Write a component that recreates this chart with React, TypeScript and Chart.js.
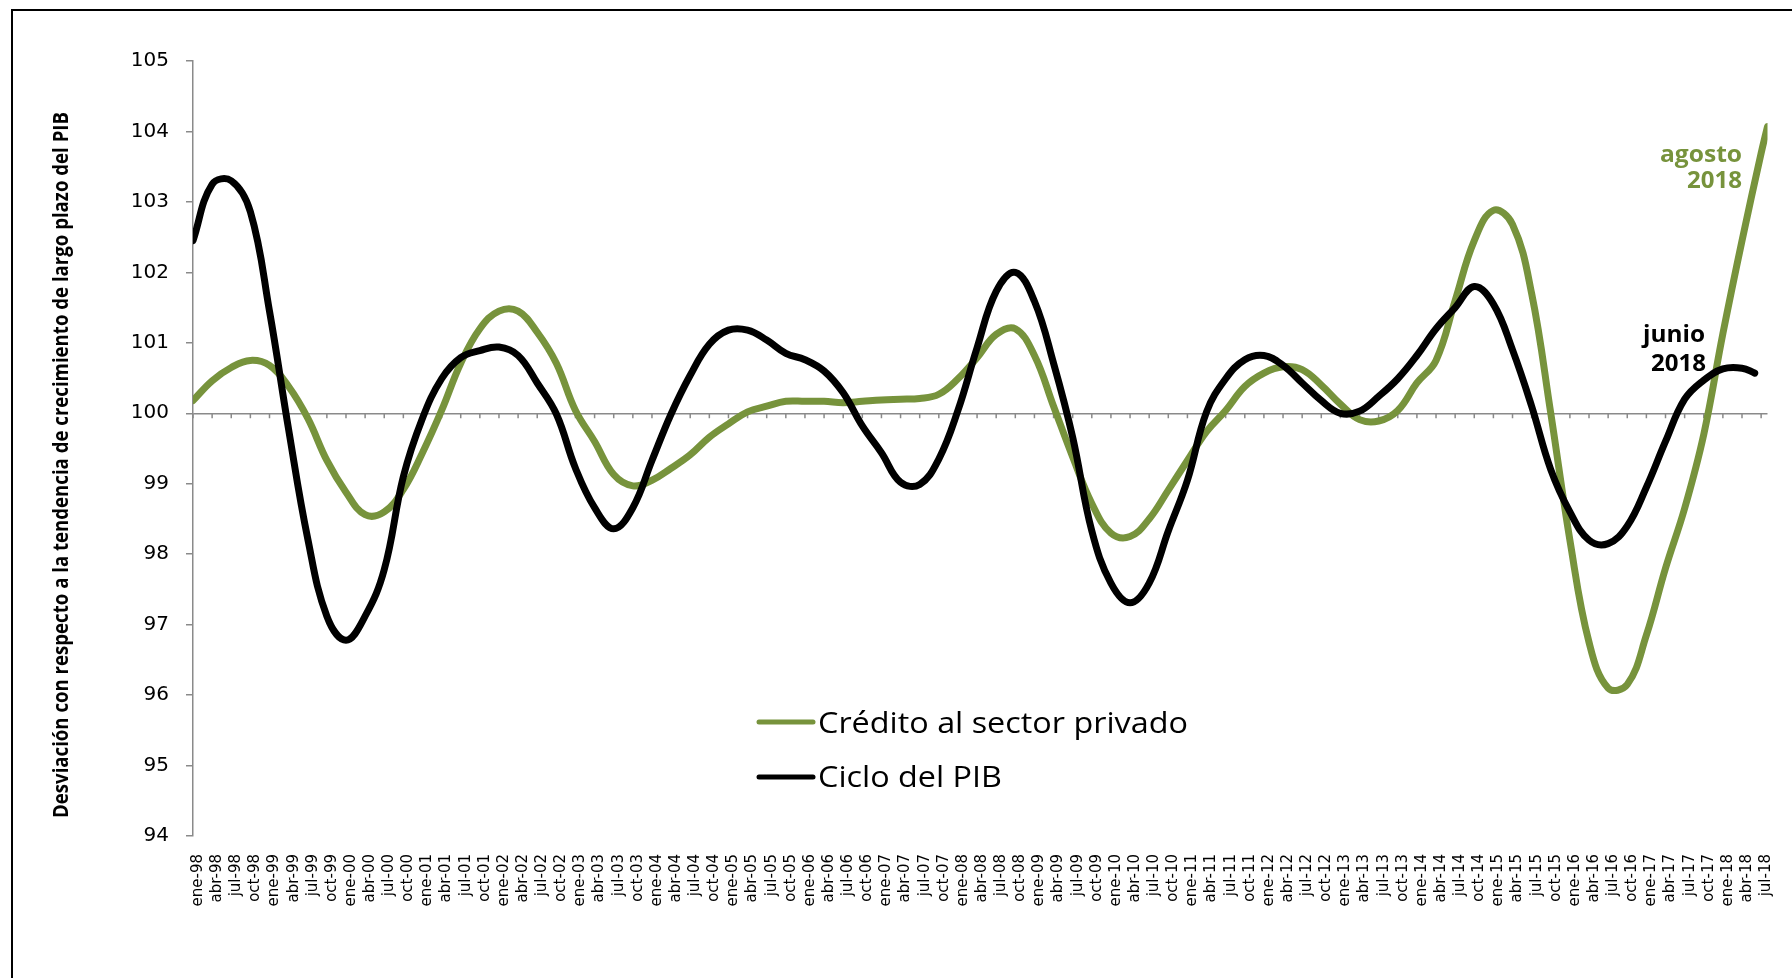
import { useEffect, useRef } from "react";
import { Chart, registerables } from "chart.js";

Chart.register(...registerables);

// Etiquetas trimestrales del eje X (ene-98 ... jul-18)
const quarterLabels = [
  "ene-98", "abr-98", "jul-98", "oct-98",
  "ene-99", "abr-99", "jul-99", "oct-99",
  "ene-00", "abr-00", "jul-00", "oct-00",
  "ene-01", "abr-01", "jul-01", "oct-01",
  "ene-02", "abr-02", "jul-02", "oct-02",
  "ene-03", "abr-03", "jul-03", "oct-03",
  "ene-04", "abr-04", "jul-04", "oct-04",
  "ene-05", "abr-05", "jul-05", "oct-05",
  "ene-06", "abr-06", "jul-06", "oct-06",
  "ene-07", "abr-07", "jul-07", "oct-07",
  "ene-08", "abr-08", "jul-08", "oct-08",
  "ene-09", "abr-09", "jul-09", "oct-09",
  "ene-10", "abr-10", "jul-10", "oct-10",
  "ene-11", "abr-11", "jul-11", "oct-11",
  "ene-12", "abr-12", "jul-12", "oct-12",
  "ene-13", "abr-13", "jul-13", "oct-13",
  "ene-14", "abr-14", "jul-14", "oct-14",
  "ene-15", "abr-15", "jul-15", "oct-15",
  "ene-16", "abr-16", "jul-16", "oct-16",
  "ene-17", "abr-17", "jul-17", "oct-17",
  "ene-18", "abr-18", "jul-18",
];

// Crédito al sector privado (valores trimestrales, ene-98 ... jul-18)
const creditoTrimestral = [
  100.18, 100.46, 100.65, 100.75,
  100.68, 100.38, 99.93, 99.33,
  98.88, 98.56, 98.6, 98.92,
  99.44, 100.04, 100.71, 101.2,
  101.45, 101.45, 101.15, 100.71,
  100.04, 99.6, 99.13, 98.97,
  99.05, 99.22, 99.41, 99.66,
  99.85, 100.02, 100.1, 100.17,
  100.17, 100.17, 100.15, 100.17,
  100.19, 100.2, 100.21, 100.27,
  100.49, 100.79, 101.12, 101.2,
  100.82, 100.1, 99.38, 98.72,
  98.3, 98.25, 98.5, 98.91,
  99.33, 99.74, 100.04, 100.38,
  100.57, 100.66, 100.62, 100.4,
  100.13, 99.91, 99.89, 100.04,
  100.43, 100.75, 101.6, 102.45,
  102.88, 102.68, 101.7, 100.0,
  98.2, 96.75, 96.1, 96.15,
  96.85, 97.8, 98.65, 99.7,
  101.13, 102.45, 103.69,
];
const creditoUltimoMes = "ago-18";
const creditoUltimoValor = 104.07;

// Ciclo del PIB (valores trimestrales, ene-98 ... abr-18)
const pibTrimestral = [
  102.45, 103.25, 103.3, 102.86,
  101.45, 99.77, 98.22, 97.12,
  96.78, 97.12, 97.78, 99.1,
  99.93, 100.49, 100.79, 100.89,
  100.94, 100.82, 100.43, 99.99,
  99.22, 98.66, 98.36, 98.66,
  99.33, 99.99, 100.54, 100.98,
  101.18, 101.18, 101.04, 100.85,
  100.76, 100.6, 100.29, 99.82,
  99.44, 99.02, 98.99, 99.35,
  100.04, 100.93, 101.73, 102.0,
  101.59, 100.71, 99.66, 98.33,
  97.59, 97.31, 97.59, 98.33,
  99.05, 100.02, 100.49, 100.76,
  100.82, 100.68, 100.43, 100.18,
  100.0, 100.03, 100.24, 100.49,
  100.82, 101.2, 101.5, 101.8,
  101.55, 100.9, 100.1, 99.2,
  98.6, 98.2, 98.15, 98.4,
  98.95, 99.6, 100.2, 100.47,
  100.63, 100.64,
];
const pibUltimoMes = "jun-18";
const pibUltimoValor = 100.57;

const yTicks = [94, 95, 96, 97, 98, 99, 100, 101, 102, 103, 104, 105];

const GREEN = "#77933C";
const AXIS_GRAY = "#8a8a8a";

const MONTHS = ["ene", "feb", "mar", "abr", "may", "jun", "jul", "ago", "sep", "oct", "nov", "dic"];
function monthIndex(label: string): number {
  const [m, yy] = label.split("-");
  const year = 1900 + Number(yy) + (Number(yy) < 50 ? 100 : 0);
  return (year - 1998) * 12 + MONTHS.indexOf(m);
}

const decorPlugin = {
  id: "decor",
  beforeDraw(chart: any) {
    const ctx = chart.ctx;
    ctx.save();
    ctx.strokeStyle = "#000";
    ctx.lineWidth = 2;
    ctx.beginPath();
    ctx.moveTo(12, chart.height);
    ctx.lineTo(12, 10);
    ctx.lineTo(chart.width, 10);
    ctx.stroke();
    ctx.restore();
  },
  beforeDatasetsDraw(chart: any) {
    const ctx = chart.ctx;
    const xs = chart.scales.x;
    const ys = chart.scales.y;
    const y0 = ys.getPixelForValue(100);
    ctx.save();
    ctx.strokeStyle = AXIS_GRAY;
    ctx.lineWidth = 1.5;
    ctx.beginPath();
    xs.ticks.forEach((t: any) => {
      const px = xs.getPixelForValue(t.value);
      ctx.moveTo(px, y0);
      ctx.lineTo(px, y0 + 5);
    });
    ctx.stroke();
    ctx.restore();
  },
  afterDraw(chart: any) {
    const ctx = chart.ctx;
    const fitText = (text: string, x: number, y: number, font: string, width: number, align: "left" | "right" | "center") => {
      ctx.font = font;
      const w = ctx.measureText(text).width;
      const s = width / w;
      ctx.save();
      ctx.translate(x, y);
      ctx.scale(s, 1);
      ctx.textAlign = align;
      ctx.textBaseline = "alphabetic";
      ctx.fillText(text, 0, 0);
      ctx.restore();
    };

    // Y axis title
    ctx.save();
    ctx.fillStyle = "#000";
    ctx.translate(68, 465);
    ctx.rotate(-Math.PI / 2);
    fitText(
      "Desviación con respecto a la tendencia de crecimiento de largo plazo del PIB",
      0, 0, 'bold 21px "Liberation Sans Narrow", "Open Sans", sans-serif', 706, "center"
    );
    ctx.restore();

    // Legend
    ctx.save();
    ctx.lineCap = "round";
    ctx.lineWidth = 5;
    ctx.strokeStyle = GREEN;
    ctx.beginPath();
    ctx.moveTo(759, 722);
    ctx.lineTo(813, 722);
    ctx.stroke();
    ctx.strokeStyle = "#000";
    ctx.beginPath();
    ctx.moveTo(759, 777);
    ctx.lineTo(813, 777);
    ctx.stroke();
    ctx.fillStyle = "#000";
    fitText("Crédito al sector privado", 818, 733, '29px "Open Sans", sans-serif', 370, "left");
    fitText("Ciclo del PIB", 818, 787, '29px "Open Sans", sans-serif', 184, "left");
    ctx.restore();

    // Annotations
    ctx.save();
    ctx.fillStyle = GREEN;
    fitText("agosto", 1742, 162, 'bold 23px "Open Sans", sans-serif', 82, "right");
    fitText("2018", 1742, 188, 'bold 23px "Open Sans", sans-serif', 55, "right");
    ctx.fillStyle = "#000";
    fitText("junio", 1705, 342, 'bold 23px "Open Sans", sans-serif', 62, "right");
    fitText("2018", 1706, 371, 'bold 23px "Open Sans", sans-serif', 55, "right");
    ctx.restore();
  },
};

export default function App() {
  const canvasRef = useRef<HTMLCanvasElement | null>(null);

  useEffect(() => {
    if (!canvasRef.current) return;

    const creditoData = creditoTrimestral.map((v, i) => ({ x: i * 3, y: v }));
    creditoData.push({ x: monthIndex(creditoUltimoMes), y: creditoUltimoValor });
    const pibData = pibTrimestral.map((v, i) => ({ x: i * 3, y: v }));
    pibData.push({ x: monthIndex(pibUltimoMes), y: pibUltimoValor });

    const chart = new Chart(canvasRef.current, {
      type: "line",
      data: {
        datasets: [
          {
            label: "Crédito al sector privado",
            data: creditoData,
            borderColor: GREEN,
            backgroundColor: GREEN,
            borderWidth: 7,
            pointRadius: 0,
            tension: 0.4,
            borderCapStyle: "round",
            borderJoinStyle: "round",
            order: 1,
          },
          {
            label: "Ciclo del PIB",
            data: pibData,
            borderColor: "#000",
            backgroundColor: "#000",
            borderWidth: 7,
            pointRadius: 0,
            tension: 0.4,
            borderCapStyle: "round",
            borderJoinStyle: "round",
            order: 0,
          },
        ],
      },
      options: {
        animation: false,
        responsive: false,
        devicePixelRatio: 1,
        layout: { padding: { top: 61, right: 24.5, left: 0, bottom: 0 } },
        plugins: {
          legend: { display: false },
          tooltip: { enabled: false },
        },
        scales: {
          x: {
            type: "linear",
            min: 0,
            max: monthIndex(creditoUltimoMes),
            grid: { display: false },
            border: { display: false },
            afterFit: (scale: any) => {
              scale.height = 142;
            },
            ticks: {
              stepSize: 3,
              includeBounds: false,
              autoSkip: false,
              minRotation: 90,
              maxRotation: 90,
              padding: 10,
              labelOffset: 5,
              color: "#000",
              font: { family: '"DejaVu Sans", sans-serif', size: 15 },
              callback: (v: any) => {
                const n = Number(v);
                return n % 3 === 0 ? quarterLabels[n / 3] ?? "" : "";
              },
            },
          },
          y: {
            min: yTicks[0],
            max: yTicks[yTicks.length - 1],
            afterFit: (scale: any) => {
              scale.width = 193;
            },
            border: { display: true, color: AXIS_GRAY, width: 1.5 },
            grid: {
              color: (c: any) => (c.tick && c.tick.value === 100 ? AXIS_GRAY : "rgba(0,0,0,0)"),
              tickColor: AXIS_GRAY,
              lineWidth: 1.5,
              tickLength: 7,
            },
            ticks: {
              stepSize: 1,
              padding: 17,
              color: "#000",
              font: { family: '"DejaVu Sans", sans-serif', size: 20 },
            },
          },
        },
      },
      plugins: [decorPlugin],
    } as any);

    return () => chart.destroy();
  }, []);

  return (
    <div style={{ position: "absolute", left: 0, top: 0, width: 1792, height: 978, background: "#fff" }}>
      <canvas ref={canvasRef} width={1792} height={978} style={{ display: "block" }} />
    </div>
  );
}
